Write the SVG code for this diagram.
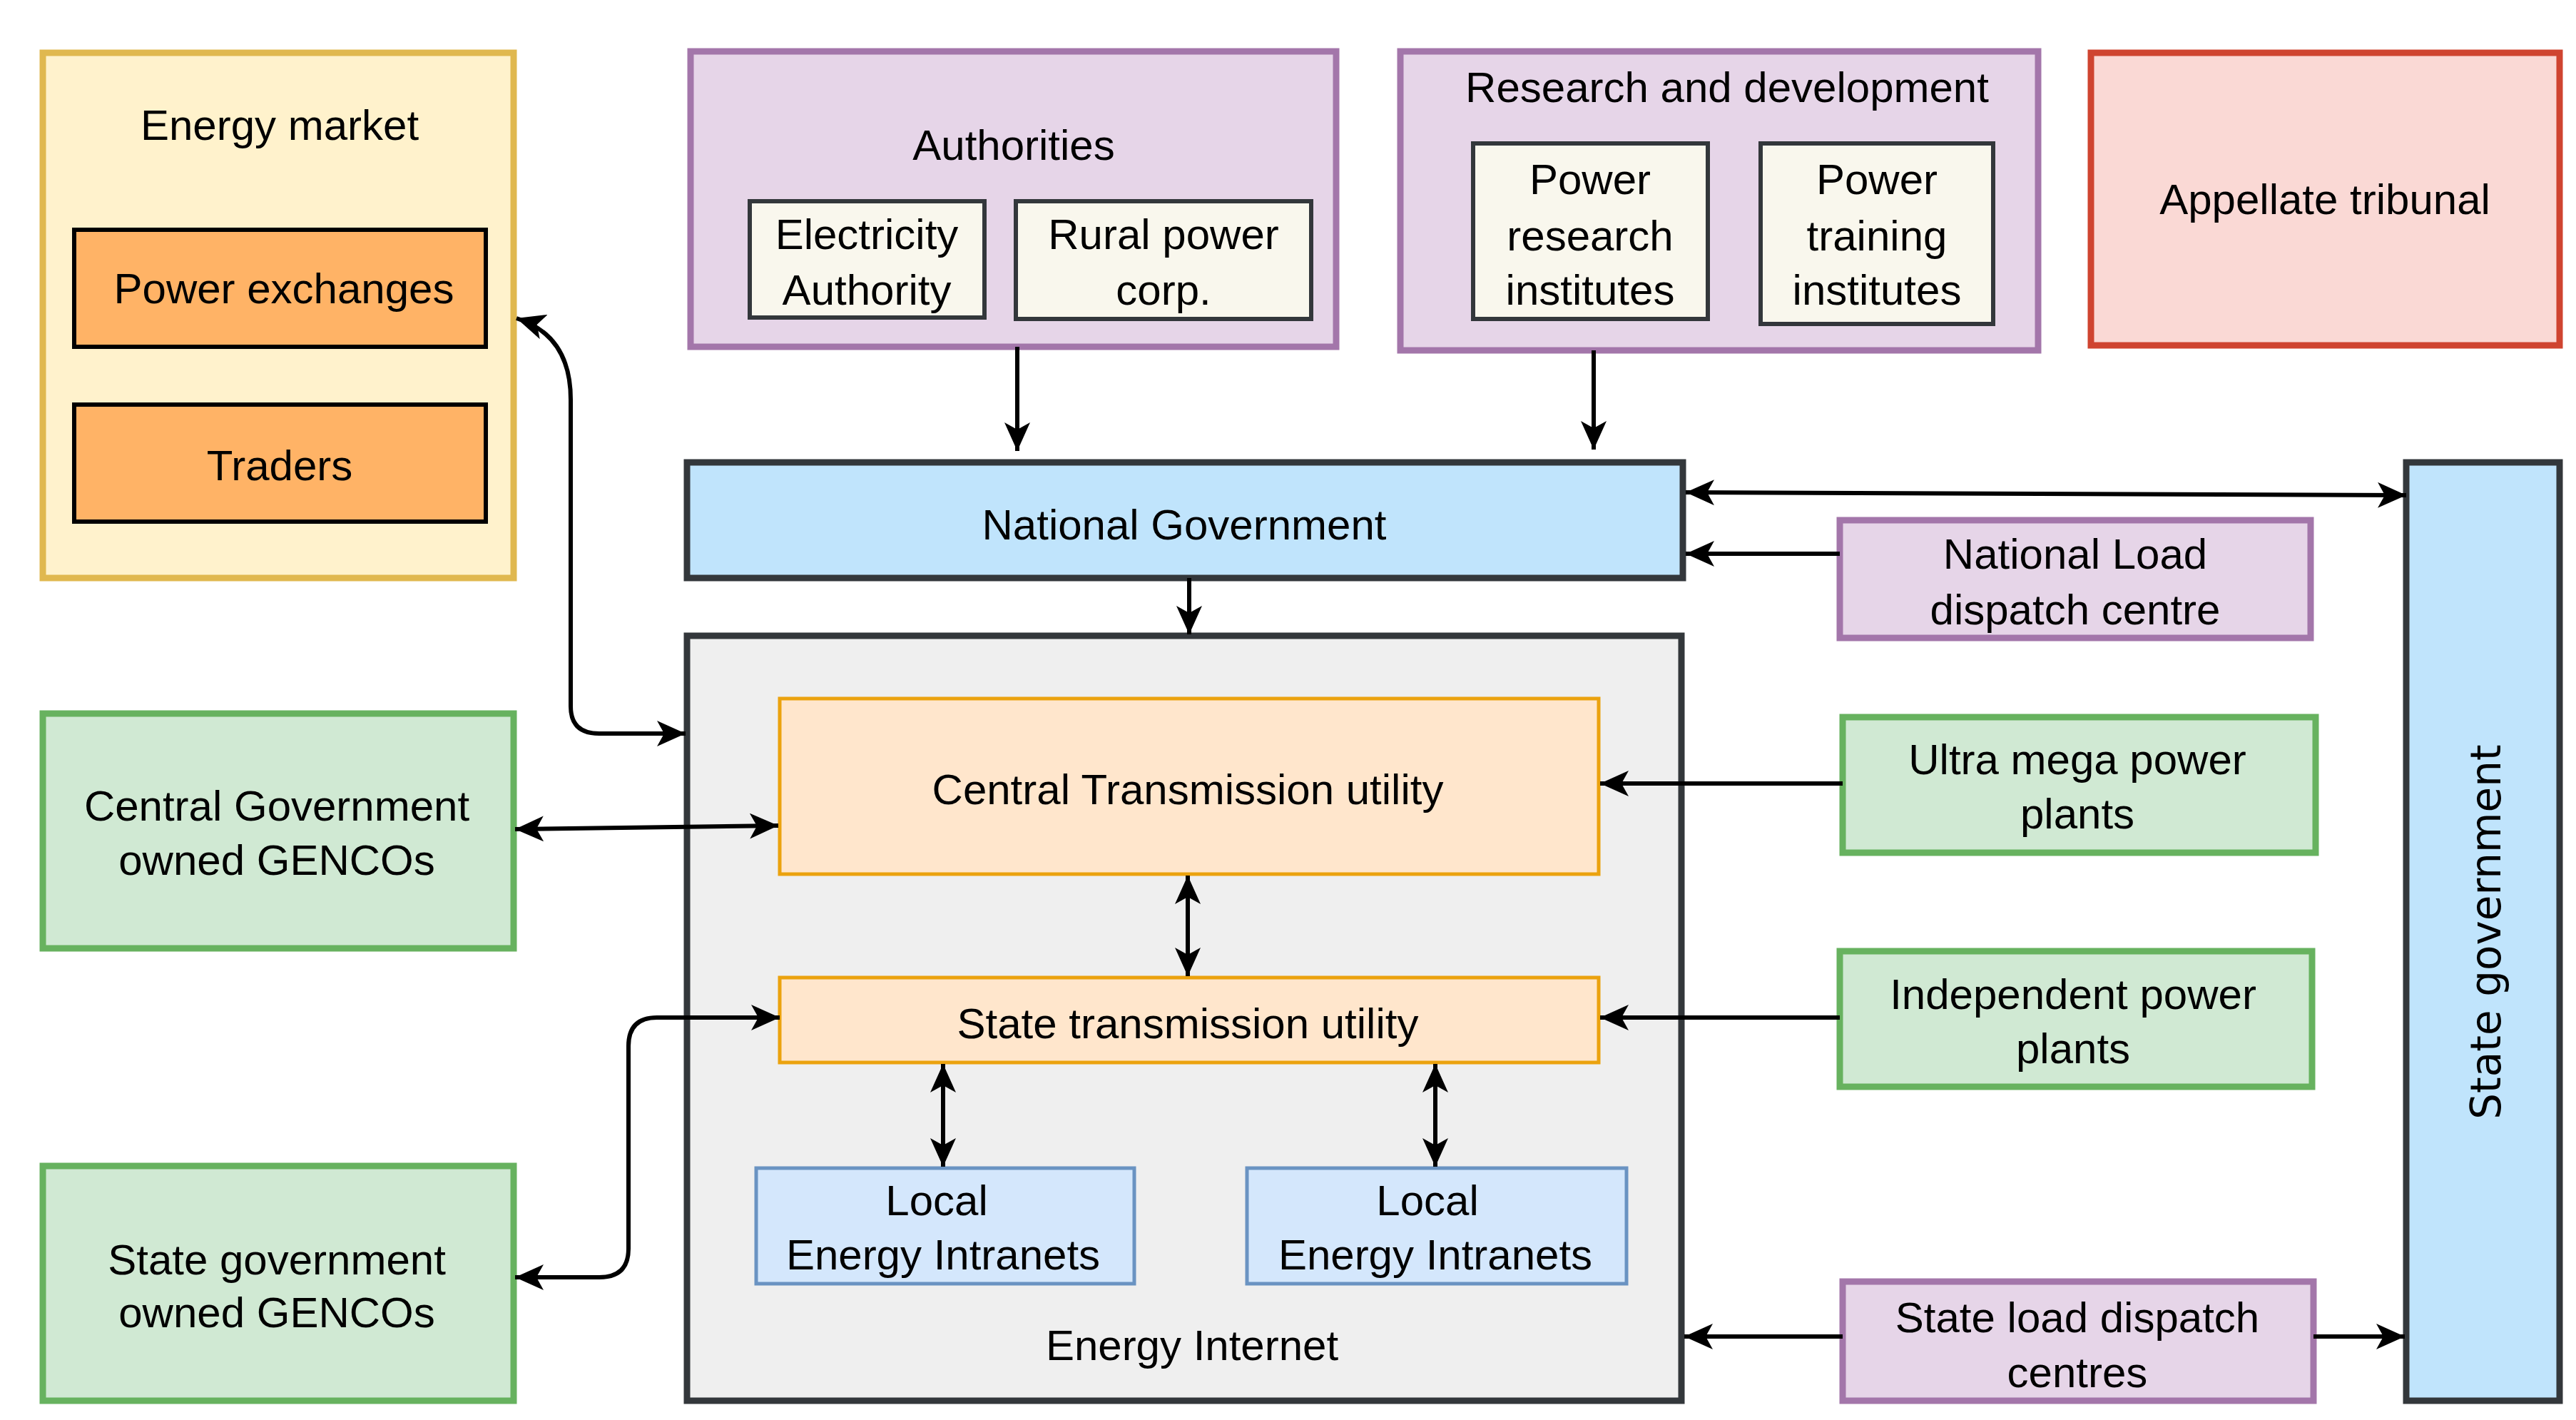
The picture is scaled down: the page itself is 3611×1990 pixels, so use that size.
<svg xmlns="http://www.w3.org/2000/svg" width="3611" height="1990" viewBox="0 0 3611 1990">
<style>
text{font-family:"Liberation Sans",Arial,sans-serif;font-size:60px;fill:#000;text-anchor:middle}
.c{fill:none;stroke:#000;stroke-width:6}
.pur{fill:#e6d5e8;stroke:#a376aa;stroke-width:9}
.grn{fill:#d0e9d3;stroke:#67b25f;stroke-width:9}
.cream{fill:#f9f7ed;stroke:#33373b;stroke-width:6}
.org{fill:#ffb366;stroke:#000;stroke-width:6}
.tu{fill:#ffe6cc;stroke:#eba20e;stroke-width:5}
.li{fill:#d4e7fc;stroke:#6a93c2;stroke-width:5}
.blu{fill:#c0e4fc;stroke:#33373b;stroke-width:9}
</style>
<defs>
<marker id="a" markerUnits="userSpaceOnUse" markerWidth="44" markerHeight="40" refX="40" refY="18" orient="auto-start-reverse" viewBox="0 0 44 40">
<path d="M0,0 L40,18 L0,36 L10,18 Z" fill="#000"/>
</marker>
</defs>
<g id="energy-internet"><rect x="963" y="891" width="1394" height="1072" fill="#efefef" stroke="#33373b" stroke-width="9"/><text x="1671" y="1906">Energy Internet</text></g>
<g id="energy-market"><rect x="60" y="74" width="660" height="736" fill="#fff2cc" stroke="#e0b84f" stroke-width="9"/><text x="392" y="196">Energy market</text></g>
<g id="power-exchanges"><rect class="org" x="104" y="322" width="577" height="164"/><text x="398" y="425">Power exchanges</text></g>
<g id="traders"><rect class="org" x="104" y="567" width="577" height="164"/><text x="392" y="673">Traders</text></g>
<g id="authorities"><rect class="pur" x="968" y="72" width="905" height="414"/><text x="1421" y="224">Authorities</text></g>
<g id="electricity-authority"><rect class="cream" x="1051" y="282" width="329" height="163"/><text x="1215" y="349">Electricity</text><text x="1215" y="427">Authority</text></g>
<g id="rural-power"><rect class="cream" x="1424" y="282" width="414" height="165"/><text x="1631" y="349">Rural power</text><text x="1631" y="427">corp.</text></g>
<g id="rnd"><rect class="pur" x="1963" y="72" width="894" height="419"/><text x="2421" y="143">Research and development</text></g>
<g id="power-research"><rect class="cream" x="2065" y="201" width="329" height="246"/><text x="2229" y="272">Power</text><text x="2229" y="351">research</text><text x="2229" y="427">institutes</text></g>
<g id="power-training"><rect class="cream" x="2468" y="201" width="326" height="253"/><text x="2631" y="272">Power</text><text x="2631" y="351">training</text><text x="2631" y="427">institutes</text></g>
<g id="appellate"><rect x="2931" y="74" width="657" height="410" fill="#fad9d5" stroke="#cf4430" stroke-width="9"/><text x="3259" y="300">Appellate tribunal</text></g>
<g id="national-government"><rect class="blu" x="963" y="648" width="1396" height="162"/><text x="1660" y="756">National Government</text></g>
<g id="nldc"><rect class="pur" x="2579" y="729" width="660" height="165"/><text x="2909" y="797">National Load</text><text x="2909" y="875">dispatch centre</text></g>
<g id="state-government"><rect class="blu" x="3373" y="648" width="215" height="1315"/><text transform="translate(3505,1306) rotate(-90)" style="font-family:'DejaVu Sans',Verdana,sans-serif;font-size:58px">State government</text></g>
<g id="ctu"><rect class="tu" x="1093" y="979" width="1148" height="246"/><text x="1665" y="1127">Central Transmission utility</text></g>
<g id="stu"><rect class="tu" x="1093" y="1370" width="1148" height="119"/><text x="1665" y="1455">State transmission utility</text></g>
<g id="local1"><rect class="li" x="1060" y="1637" width="530" height="162"/><text x="1313" y="1703">Local</text><text x="1322" y="1779">Energy Intranets</text></g>
<g id="local2"><rect class="li" x="1748" y="1637" width="532" height="162"/><text x="2001" y="1703">Local</text><text x="2012" y="1779">Energy Intranets</text></g>
<g id="cg-gencos"><rect class="grn" x="60" y="1000" width="660" height="329"/><text x="388" y="1150">Central Government</text><text x="388" y="1226">owned GENCOs</text></g>
<g id="sg-gencos"><rect class="grn" x="60" y="1634" width="660" height="329"/><text x="388" y="1786">State government</text><text x="388" y="1860">owned GENCOs</text></g>
<g id="ultra"><rect class="grn" x="2583" y="1005" width="663" height="190"/><text x="2912" y="1085">Ultra mega power</text><text x="2912" y="1161">plants</text></g>
<g id="ipp"><rect class="grn" x="2579" y="1333" width="662" height="190"/><text x="2906" y="1414">Independent power</text><text x="2906" y="1490">plants</text></g>
<g id="sldc"><rect class="pur" x="2583" y="1796" width="660" height="167"/><text x="2912" y="1867">State load dispatch</text><text x="2912" y="1944">centres</text></g>
<g id="connectors">
<path class="c" d="M1426,486 L1426,632" marker-end="url(#a)"/>
<path class="c" d="M2234,491 L2234,630" marker-end="url(#a)"/>
<path class="c" d="M1667,810 L1667,889" marker-end="url(#a)"/>
<path class="c" d="M2363,690 L3373,694" marker-start="url(#a)" marker-end="url(#a)"/>
<path class="c" d="M2579,776 L2363,776" marker-end="url(#a)"/>
<path class="c" d="M724,446 Q800,470 800,560 L800,990 Q800,1028 840,1028 L961,1028" marker-start="url(#a)" marker-end="url(#a)"/>
<path class="c" d="M722,1162 L1091,1157" marker-start="url(#a)" marker-end="url(#a)"/>
<path class="c" d="M1665,1227 L1665,1368" marker-start="url(#a)" marker-end="url(#a)"/>
<path class="c" d="M722,1790 L840,1790 Q881,1790 881,1750 L881,1466 Q881,1426 921,1426 L1093,1426" marker-start="url(#a)" marker-end="url(#a)"/>
<path class="c" d="M1322,1491 L1322,1635" marker-start="url(#a)" marker-end="url(#a)"/>
<path class="c" d="M2012,1491 L2012,1635" marker-start="url(#a)" marker-end="url(#a)"/>
<path class="c" d="M2583,1098 L2243,1098" marker-end="url(#a)"/>
<path class="c" d="M2579,1426 L2243,1426" marker-end="url(#a)"/>
<path class="c" d="M2583,1873 L2361,1873" marker-end="url(#a)"/>
<path class="c" d="M3243,1873 L3371,1873" marker-end="url(#a)"/>
</g>
</svg>
